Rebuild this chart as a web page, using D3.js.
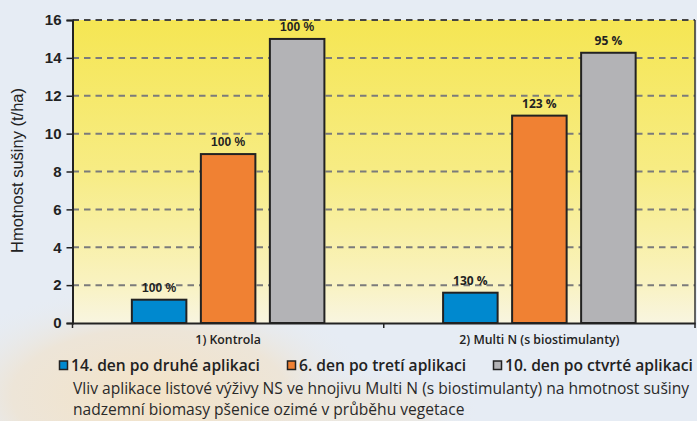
<!DOCTYPE html>
<html><head><meta charset="utf-8">
<script src="https://cdn.jsdelivr.net/npm/d3@7"></script>
<style>html,body{margin:0;padding:0;background:#e6ecf4;}svg{display:block;}</style>
</head><body>
<script>
const categories = ["1) Kontrola", "2) Multi N (s biostimulanty)"];
const series = ["14. den po druhé aplikaci", "6. den po tretí aplikaci", "10. den po ctvrté aplikaci"];
const values = [
  [1.23, 8.92, 15.0],
  [1.6, 10.95, 14.27]
];
const percentLabels = [
  ["100 %", "100 %", "100 %"],
  ["130 %", "123 %", "95 %"]
];
const yTicks = [0, 2, 4, 6, 8, 10, 12, 14, 16];
const colors = ["#0089cf", "#f08133", "#b3b3b6"];
const yTitle = "Hmotnost sušiny (t/ha)";
const caption = ["Vliv aplikace listové výživy NS ve hnojivu Multi N (s biostimulanty) na hmotnost sušiny",
                 "nadzemní biomasy pšenice ozimé v průběhu vegetace"];

const W = 697, H = 421;
const L = 72.5, R = 695, T = 20, B = 323;
const svg = d3.select("body").append("svg").attr("width", W).attr("height", H);
const defs = svg.append("defs");

// background
const bg = defs.append("radialGradient").attr("id", "photo").attr("cx", "0.5").attr("cy", "0.5").attr("r", "0.5");
bg.append("stop").attr("offset", "0%").attr("stop-color", "#f4e3c6").attr("stop-opacity", 1);
bg.append("stop").attr("offset", "60%").attr("stop-color", "#f0e2cc").attr("stop-opacity", 0.7);
bg.append("stop").attr("offset", "100%").attr("stop-color", "#e6ecf4").attr("stop-opacity", 0);
svg.append("rect").attr("width", W).attr("height", H).attr("fill", "#e6ecf4");
svg.append("ellipse").attr("cx", 150).attr("cy", 395).attr("rx", 230).attr("ry", 110).attr("fill", "url(#photo)");
svg.append("ellipse").attr("cx", 360).attr("cy", 410).attr("rx", 120).attr("ry", 40).attr("fill", "url(#photo)").attr("opacity", 0.5);

const pg = defs.append("linearGradient").attr("id", "plotbg").attr("x1", 0).attr("y1", 0).attr("x2", 0).attr("y2", 1);
pg.append("stop").attr("offset", "0%").attr("stop-color", "#f5e653");
pg.append("stop").attr("offset", "50%").attr("stop-color", "#f7ec84");
pg.append("stop").attr("offset", "85%").attr("stop-color", "#f9f2bd");
pg.append("stop").attr("offset", "100%").attr("stop-color", "#f8f5e0");

const y = d3.scaleLinear().domain([0, 16]).range([B, T]);
const x0 = d3.scaleBand().domain(categories).range([L, R]);
const x1 = d3.scaleBand().domain(series).range([0, x0.bandwidth()]).paddingInner(0.21).paddingOuter(0.86);

svg.append("rect").attr("x", L).attr("y", T).attr("width", R - L).attr("height", B - T).attr("fill", "url(#plotbg)");

// gridlines
svg.append("g").selectAll("line").data(yTicks.filter(d => d > 0)).join("line")
  .attr("x1", L).attr("x2", R).attr("y1", d => y(d)).attr("y2", d => y(d))
  .attr("stroke", d => d === 16 ? "#444" : "#7b7b7b").attr("stroke-width", 2).attr("stroke-dasharray", "6.5,5");

// right border
svg.append("line").attr("x1", R).attr("x2", R).attr("y1", T).attr("y2", B).attr("stroke", "#333").attr("stroke-width", 1.5);

// bars
const grp = svg.append("g").selectAll("g").data(categories).join("g")
  .attr("transform", d => `translate(${x0(d)},0)`);
grp.selectAll("rect").data((c, i) => values[i].map((v, j) => ({v, j}))).join("rect")
  .attr("x", d => x1(series[d.j])).attr("width", x1.bandwidth())
  .attr("y", d => y(d.v)).attr("height", d => y(0) - y(d.v))
  .attr("fill", d => colors[d.j]).attr("stroke", "#222").attr("stroke-width", 2);
grp.selectAll("text").data((c, i) => values[i].map((v, j) => ({v, j, i}))).join("text")
  .attr("x", d => x1(series[d.j]) + x1.bandwidth() / 2).attr("y", d => y(d.v) - 8)
  .attr("text-anchor", "middle")
  .attr("font-family", d => d.i === 0 ? "Liberation Sans, Arial, sans-serif" : "Open Sans, sans-serif")
  .attr("font-weight", "bold").attr("font-size", 12).attr("fill", "#222")
  .text(d => percentLabels[d.i][d.j]);

// y axis
const yAxis = svg.append("g").attr("transform", `translate(${L},0)`)
  .call(d3.axisLeft(y).tickValues(yTicks).tickSize(6).tickPadding(5));
yAxis.select(".domain").attr("stroke", "#222").attr("stroke-width", 2);
yAxis.selectAll(".tick line").attr("stroke", "#222").attr("stroke-width", 1.5);
yAxis.selectAll("text").attr("font-family", "Liberation Sans, Arial, sans-serif").attr("font-weight", "bold")
  .attr("font-size", 15).attr("fill", "#222");

// x axis
const xAxis = svg.append("g").attr("transform", `translate(0,${B})`)
  .call(d3.axisBottom(x0).tickSize(0).tickPadding(12));
xAxis.select(".domain").attr("stroke", "#222").attr("stroke-width", 2);
xAxis.selectAll("text").attr("font-family", "Open Sans, sans-serif").attr("font-weight", 600)
  .attr("font-size", 12.3).attr("fill", "#222");
svg.append("g").selectAll("line").data([L, x0(categories[1]), R]).join("line")
  .attr("x1", d => d).attr("x2", d => d).attr("y1", B).attr("y2", B + 5)
  .attr("stroke", "#222").attr("stroke-width", 1.5);

// y title
svg.append("text").attr("transform", `translate(23,${(T + B) / 2 - 1}) rotate(-90)`)
  .attr("text-anchor", "middle").attr("font-family", "Liberation Sans, Arial, sans-serif")
  .attr("font-size", 16.5).attr("fill", "#222").text(yTitle);

// legend
const legX = [59, 287, 493];
const leg = svg.append("g").selectAll("g").data(series).join("g")
  .attr("transform", (d, i) => `translate(${legX[i]},371)`);
leg.append("rect").attr("x", 0.5).attr("y", -10).attr("width", 8).attr("height", 8.5)
  .attr("fill", (d, i) => colors[i]).attr("stroke", "#222").attr("stroke-width", 1.5);
leg.append("text").attr("x", 12).attr("y", 0)
  .attr("font-family", "Open Sans, sans-serif").attr("font-weight", 600).attr("font-size", 15.6)
  .attr("fill", "#222").text(d => d);

// caption
svg.append("g").selectAll("text").data(caption).join("text")
  .attr("x", 73).attr("y", (d, i) => 394 + i * 21)
  .attr("font-family", "Open Sans, sans-serif").attr("font-size", 15.6).attr("fill", "#2a2a2a")
  .text(d => d);
</script>
</body></html>
